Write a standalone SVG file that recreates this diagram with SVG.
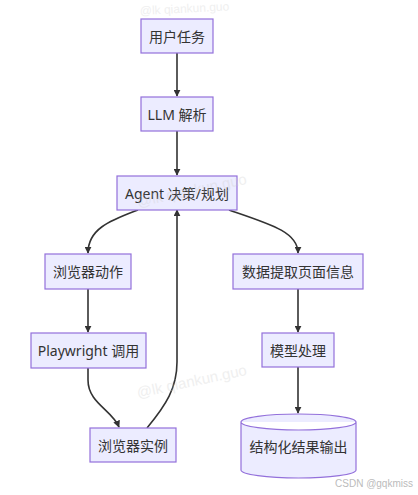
<svg xmlns="http://www.w3.org/2000/svg" width="418" height="495" viewBox="0 0 418 495">
<style>
.node rect,.node path{fill:#ECECFF;stroke:#9370DB;stroke-width:1.2}
.node text{font-family:"Noto Sans","Noto Sans CJK SC",sans-serif;font-size:14px;fill:#333;text-anchor:middle;dominant-baseline:central}
.edge{fill:none;stroke:#333;stroke-width:1.6}
.wm{font-family:"Liberation Sans",sans-serif;font-size:15px;fill:#ccc;opacity:0.3}
</style>
<defs>
<marker id="arr" viewBox="0 0 10 10" refX="9" refY="5" markerWidth="7" markerHeight="7" markerUnits="userSpaceOnUse" orient="auto">
<path d="M0,0 L10,5 L0,10 z" fill="#333"/>
</marker>
</defs>
<rect width="418" height="495" fill="#fff"/>
<g id="connectors">
<path class="edge" d="M177,53 L177,96" marker-end="url(#arr)"/>
<path class="edge" d="M177,131 L177,175" marker-end="url(#arr)"/>
<path class="edge" d="M138,210 C112,220 88,228 88,253" marker-end="url(#arr)"/>
<path class="edge" d="M229,210 C270,224 298,232 298,253" marker-end="url(#arr)"/>
<path class="edge" d="M88,289 L88,332" marker-end="url(#arr)"/>
<path class="edge" d="M88,368 L88,380 C88,403 112,410 119,427" marker-end="url(#arr)"/>
<path class="edge" d="M147,428 C166,405 177,388 177,362 L177,210" marker-end="url(#arr)"/>
<path class="edge" d="M298,289 L298,332" marker-end="url(#arr)"/>
<path class="edge" d="M298,367 L298,413" marker-end="url(#arr)"/>
</g>
<g id="n_user" class="node"><rect x="141" y="19" width="72" height="34"/><text x="177" y="36">用户任务</text></g>
<g id="n_llm" class="node"><rect x="141" y="97" width="72" height="34"/><text x="177" y="114">LLM 解析</text></g>
<g id="n_agent" class="node"><rect x="117" y="176" width="120" height="34"/><text x="177" y="193">Agent 决策/规划</text></g>
<g id="n_action" class="node"><rect x="45" y="254" width="86" height="35"/><text x="88" y="271.5">浏览器动作</text></g>
<g id="n_pw" class="node"><rect x="31" y="333" width="115" height="35"/><text x="88.5" y="350.5">Playwright 调用</text></g>
<g id="n_inst" class="node"><rect x="90" y="428" width="86" height="34"/><text x="133" y="445">浏览器实例</text></g>
<g id="n_extract" class="node"><rect x="233" y="254" width="130" height="35"/><text x="298" y="271.5">数据提取页面信息</text></g>
<g id="n_model" class="node"><rect x="262" y="333" width="72" height="34"/><text x="298" y="350">模型处理</text></g>
<g id="n_out" class="node"><path d="M241,422 a57.5,8 0 0 1 115,0 a57.5,8 0 0 1 -115,0 l0,48 a57.5,8 0 0 0 115,0 l0,-48"/><text x="298.5" y="446">结构化结果输出</text></g>
<g id="watermarks">
<text class="wm" x="140" y="15" font-size="12" style="font-size:12px" transform="rotate(-3 140 15)">@lk qiankun.guo</text>
<text class="wm" x="138" y="207" transform="rotate(-12 138 207)">@lk qiankun.guo</text>
<text class="wm" x="138" y="398" transform="rotate(-12 138 398)">@lk qiankun.guo</text>
<text x="413" y="487" text-anchor="end" font-family="Liberation Sans,sans-serif" font-size="10" fill="#bbb">CSDN @gqkmiss</text>
</g>
</svg>
